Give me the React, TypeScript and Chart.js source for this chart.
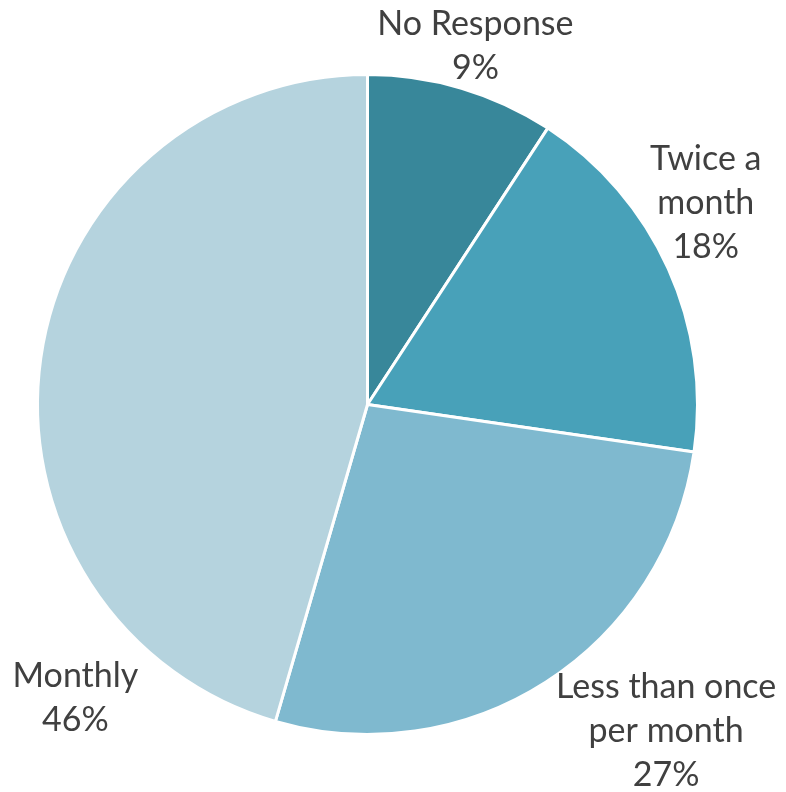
import React, { useEffect, useRef } from "react";
import { Chart, registerables } from "chart.js";

Chart.register(...registerables);

const categories = ["No Response", "Twice a month", "Less than once per month", "Monthly"];
const labelLines = [["No Response", "9%"], ["Twice a", "month", "18%"], ["Less than once", "per month", "27%"], ["Monthly", "46%"]];
const values = [9.2, 18.1, 27.2, 45.5];
const colors = ["#38879a", "#48a1b9", "#7fb9cf", "#b5d3de"];
// label anchor offsets in units of pie radius
const labelOffsetX = [0.327, 1.025, 0.905, -0.885];
const labelOffsetY = [-1.085, -0.612, 0.99, 0.89];

const labelPlugin = {
  id: "outsideLabels",
  afterDatasetsDraw(chart: any) {
    const ctx = chart.ctx;
    const meta = chart.getDatasetMeta(0);
    ctx.save();
    ctx.fillStyle = "#404040";
    ctx.font = "34px Lato, 'Open Sans', sans-serif";
    ctx.textAlign = "center";
    ctx.textBaseline = "middle";
    const lh = 44;
    meta.data.forEach((arc: any, i: number) => {
      const r = arc.outerRadius;
      const cx = arc.x + labelOffsetX[i] * r;
      const cy = arc.y + labelOffsetY[i] * r;
      const lines = labelLines[i];
      const startY = cy - ((lines.length - 1) * lh) / 2;
      lines.forEach((t, j) => ctx.fillText(t, cx, startY + j * lh));
    });
    ctx.restore();
  },
};

export default function App() {
  const ref = useRef<HTMLCanvasElement>(null);
  useEffect(() => {
    if (!ref.current) return;
    const chart = new Chart(ref.current, {
      type: "pie",
      data: {
        labels: categories,
        datasets: [
          {
            data: values,
            backgroundColor: colors,
            borderColor: "#ffffff",
            borderWidth: 3,
          },
        ],
      },
      options: {
        responsive: false,
        animation: false,
        layout: { padding: { left: 36, right: 87, top: 73, bottom: 56 } },
        plugins: {
          legend: { display: false },
          tooltip: { enabled: false },
        },
      },
      plugins: [labelPlugin],
    });
    return () => chart.destroy();
  }, []);
  return (
    <div style={{ position: "absolute", left: 0, top: 0, width: 786, height: 792, background: "#fff" }}>
      <canvas ref={ref} width={786} height={792} style={{ width: 786, height: 792 }} />
    </div>
  );
}
